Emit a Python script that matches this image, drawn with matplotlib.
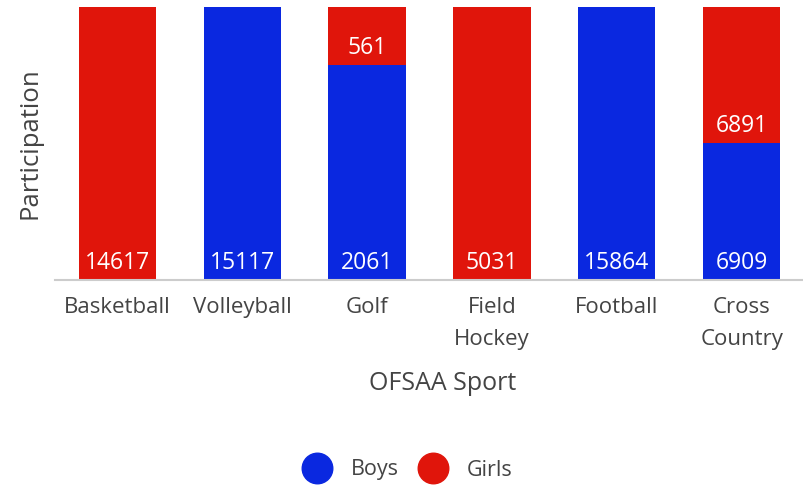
import matplotlib
matplotlib.use("Agg")
import matplotlib.pyplot as plt
from matplotlib.lines import Line2D
import numpy as np

plt.rcParams['font.family'] = ['Open Sans', 'DejaVu Sans']

sports = ['Basketball', 'Volleyball', 'Golf', 'Field\nHockey', 'Football', 'Cross\nCountry']
boys = np.array([0, 15117, 2061, 0, 15864, 6909])
girls = np.array([14617, 0, 561, 5031, 0, 6891])

blue = '#0a28e0'
red = '#e0150b'
text_col = '#444444'

total = boys + girls
boys_f = boys / total
girls_f = girls / total

fig = plt.figure(figsize=(8.04, 4.91), dpi=100)
ax = fig.add_axes([55/804, 1 - 280/491, 1 - 55/804, 273/491])

x = np.arange(len(sports))
w = 0.62
b1 = ax.bar(x, boys_f, w, color=blue)
b2 = ax.bar(x, girls_f, w, bottom=boys_f, color=red)

# value labels near the bottom of each segment
for rects, vals in [(b1, boys), (b2, girls)]:
    for r, v in zip(rects, vals):
        if v == 0:
            continue
        ax.annotate(str(v), xy=(r.get_x() + r.get_width() / 2, r.get_y()),
                    xytext=(0, 12.5), textcoords='offset points',
                    ha='center', va='center', color='white', fontsize=16.5)

ax.set_xlim(-0.5, 5.5)
ax.set_ylim(0, 1)
ax.set_yticks([])
ax.set_xticks(x)
ax.set_xticklabels(sports, fontsize=16, color=text_col, linespacing=1.7)
ax.tick_params(axis='x', length=0, pad=12)
for s in ['top', 'right', 'left']:
    ax.spines[s].set_visible(False)
ax.spines['bottom'].set_color('#cccccc')
ax.spines['bottom'].set_linewidth(1.5)

ax.set_ylabel('Participation', fontsize=18.5, color=text_col, labelpad=9)
fig.text(443/804, 1 - 383/491, 'OFSAA Sport', fontsize=18, color=text_col,
         ha='center', va='center')

handles = [Line2D([], [], marker='o', linestyle='', markersize=22, color=blue),
           Line2D([], [], marker='o', linestyle='', markersize=22, color=red)]
fig.legend(handles, ['Boys', 'Girls'], loc='center', bbox_to_anchor=(404/804, 1 - 470/491),
           ncol=2, frameon=False, fontsize=15.5, labelcolor=text_col,
           handletextpad=0.55, columnspacing=0.6)

fig.savefig('out.png', dpi=100)
